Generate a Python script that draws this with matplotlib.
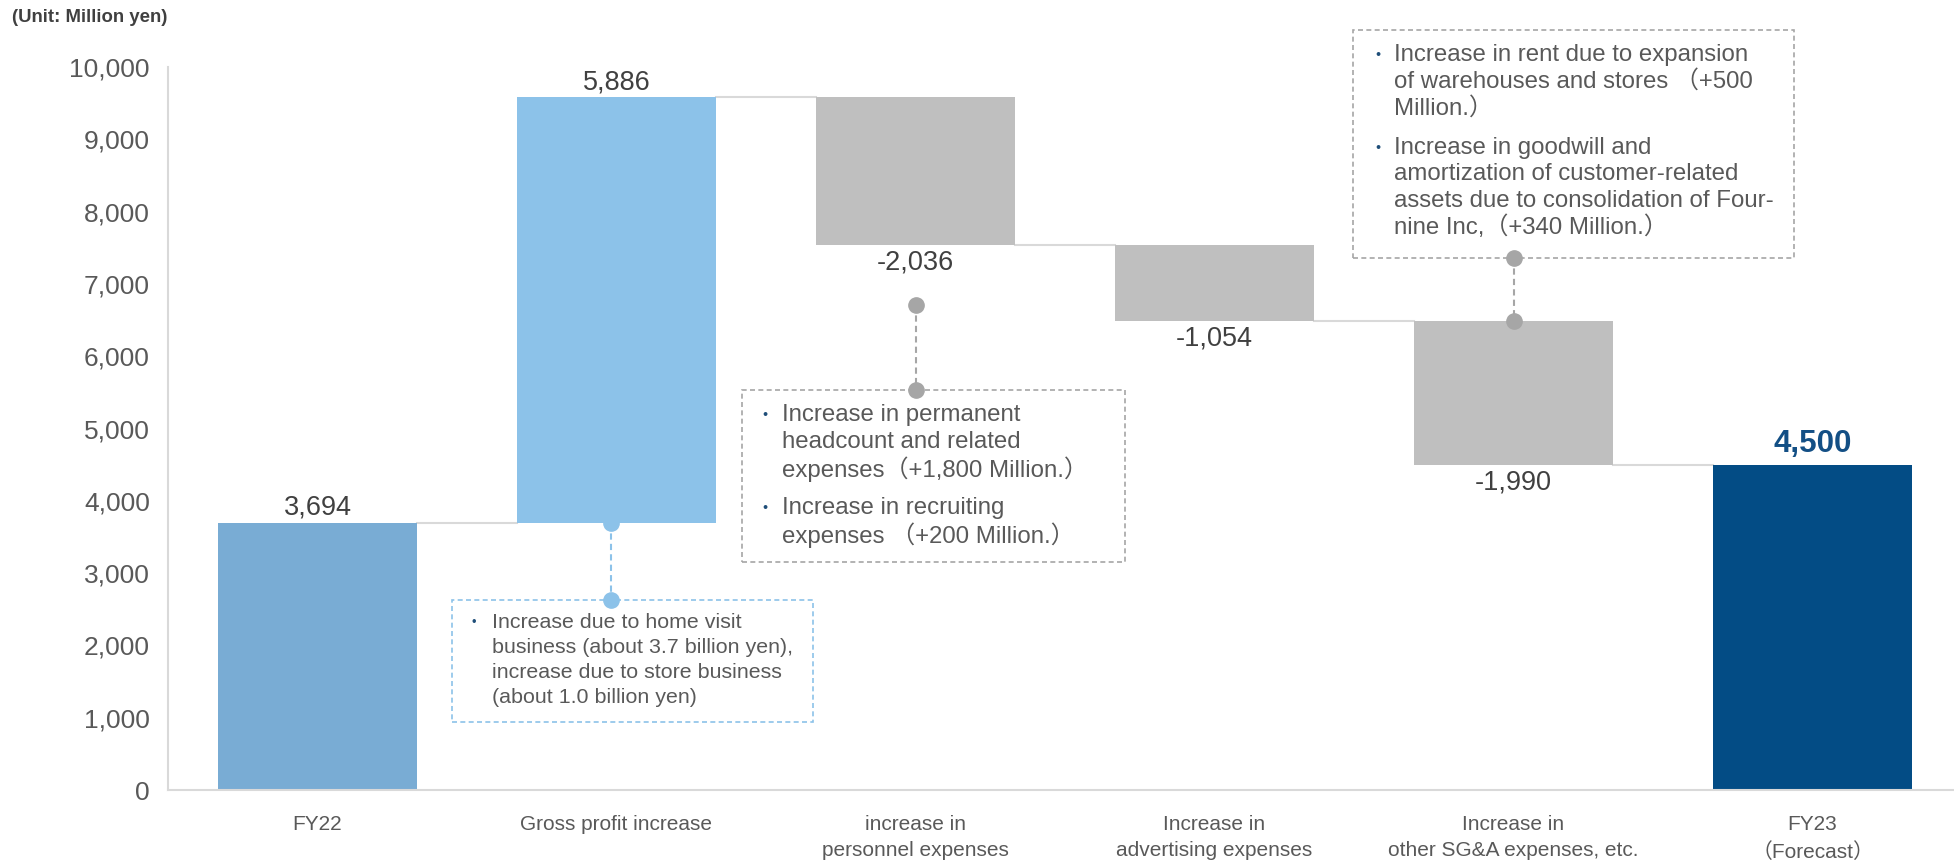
import matplotlib.pyplot as plt
from matplotlib.patches import Rectangle

plt.rcParams['font.family'] = ['Liberation Sans', 'Noto Sans CJK JP', 'DejaVu Sans']

# データ
categories = ['FY22', 'Gross profit increase', 'increase in\npersonnel expenses',
              'Increase in\nadvertising expenses', 'Increase in\nother SG&A expenses, etc.',
              'FY23\n（Forecast）']
start_value = 3694
changes = [5886, -2036, -1054, -1990]
end_value = 4500
value_labels = ['3,694', '5,886', '-2,036', '-1,054', '-1,990', '4,500']
yticks = list(range(0, 10001, 1000))
bar_colors = ['#79acd4', '#8cc2e9', '#bfbfbf', '#bfbfbf', '#bfbfbf', '#034c85']

W, H = 1954, 860

# waterfall bottoms / heights
bottoms = [0]
heights = [start_value]
levels = [start_value]
level = start_value
for c in changes:
    bottoms.append(min(level, level + c))
    heights.append(abs(c))
    level += c
    levels.append(level)
bottoms.append(0)
heights.append(end_value)

fig = plt.figure(figsize=(W / 100, H / 100), dpi=100)
ax = fig.add_axes([168 / W, 70 / H, 1794 / W, 723 / H])

x = list(range(len(categories)))
bw = 0.665
ax.bar(x, heights, bottom=bottoms, width=bw, color=bar_colors, zorder=2)

# connector lines between bars
for i in range(len(levels)):
    ax.plot([i + bw / 2, i + 1 - bw / 2], [levels[i], levels[i]],
            color='#d9d9d9', lw=1.5, zorder=1)

# value labels
for i in range(len(categories)):
    top = bottoms[i] + heights[i]
    if i == len(categories) - 1:
        ax.annotate(value_labels[i], (i, top), xytext=(0, 15), textcoords='offset points',
                    ha='center', va='center', fontsize=22.5, fontweight='bold', color='#134f85')
    elif i in (1, 2, 3, 4) and changes[i - 1] < 0:
        ax.annotate(value_labels[i], (i, bottoms[i]), xytext=(0, -13), textcoords='offset points',
                    ha='center', va='center', fontsize=19.5, color='#404040')
    else:
        ax.annotate(value_labels[i], (i, top), xytext=(0, 11), textcoords='offset points',
                    ha='center', va='center', fontsize=19.5, color='#404040')

ax.set_xlim(-0.5, 5.5)
ax.set_ylim(0, 10000)
ax.set_xticks(x)
ax.set_xticklabels(categories, fontsize=15, color='#595959', linespacing=1.5)
ax.set_yticks(yticks)
ax.set_yticklabels([f'{v:,}' for v in yticks], fontsize=19, color='#595959')
ax.tick_params(axis='x', length=0, pad=18)
ax.tick_params(axis='y', length=0, pad=13)
for s in ['top', 'right']:
    ax.spines[s].set_visible(False)
ax.spines['left'].set_color('#d9d9d9')
ax.spines['left'].set_linewidth(1.5)
ax.spines['bottom'].set_color('#d9d9d9')
ax.spines['bottom'].set_linewidth(1.5)

fig.text(12 / W, 1 - 18 / H, '(Unit: Million yen)', fontsize=13.4, fontweight='bold',
         color='#404040', ha='left', va='center')

# dotted leader lines with dots (data coords)
ax.plot([0.98, 0.98], [3694, 2628], color='#8cc2e9', lw=1.5, ls=(0, (3, 2)),
        marker='o', ms=11, zorder=1.5, clip_on=False)
ax.plot([2, 2], [6708, 5533], color='#a6a6a6', lw=1.5, ls=(0, (3, 2)),
        marker='o', ms=11, zorder=3, clip_on=False)
ax.plot([4, 4], [7358, 6490], color='#a6a6a6', lw=1.5, ls=(0, (3, 2)),
        marker='o', ms=11, zorder=3, clip_on=False)


def note_box(x0, y0, x1, y1, edge, items, bx, tx, first_y, step, gap, size):
    rect = Rectangle((x0 / W, 1 - y1 / H), (x1 - x0) / W, (y1 - y0) / H,
                     transform=fig.transFigure, fill=False, edgecolor=edge,
                     lw=1.2, ls=(0, (3, 2)), clip_on=False, zorder=2.5)
    ax.add_patch(rect)
    y = first_y
    for lines in items:
        fig.text(bx / W, 1 - y / H, '•', fontsize=size * 0.6, color='#1f4e79',
                 ha='left', va='center')
        for ln in lines:
            fig.text(tx / W, 1 - y / H, ln, fontsize=size, color='#595959',
                     ha='left', va='center')
            y += step
        y += gap - step


note_box(452, 600, 813, 722, '#8cc2e9',
         [['Increase due to home visit', 'business (about 3.7 billion yen),',
           'increase due to store business', '(about 1.0 billion yen)']],
         472, 492, 623, 24.7, 0, 15.4)
note_box(742, 390, 1125, 562, '#a6a6a6',
         [['Increase in permanent', 'headcount and related', 'expenses（+1,800 Million.）'],
          ['Increase in recruiting', 'expenses （+200 Million.）']],
         762, 782, 415, 27, 39, 17.3)
note_box(1353, 30, 1794, 258, '#a6a6a6',
         [['Increase in rent due to expansion', 'of warehouses and stores （+500', 'Million.）'],
          ['Increase in goodwill and', 'amortization of customer-related',
           'assets due to consolidation of Four-', 'nine Inc,（+340 Million.）']],
         1375, 1394, 55, 26.5, 40, 17.3)

fig.savefig('out.png', dpi=100)
